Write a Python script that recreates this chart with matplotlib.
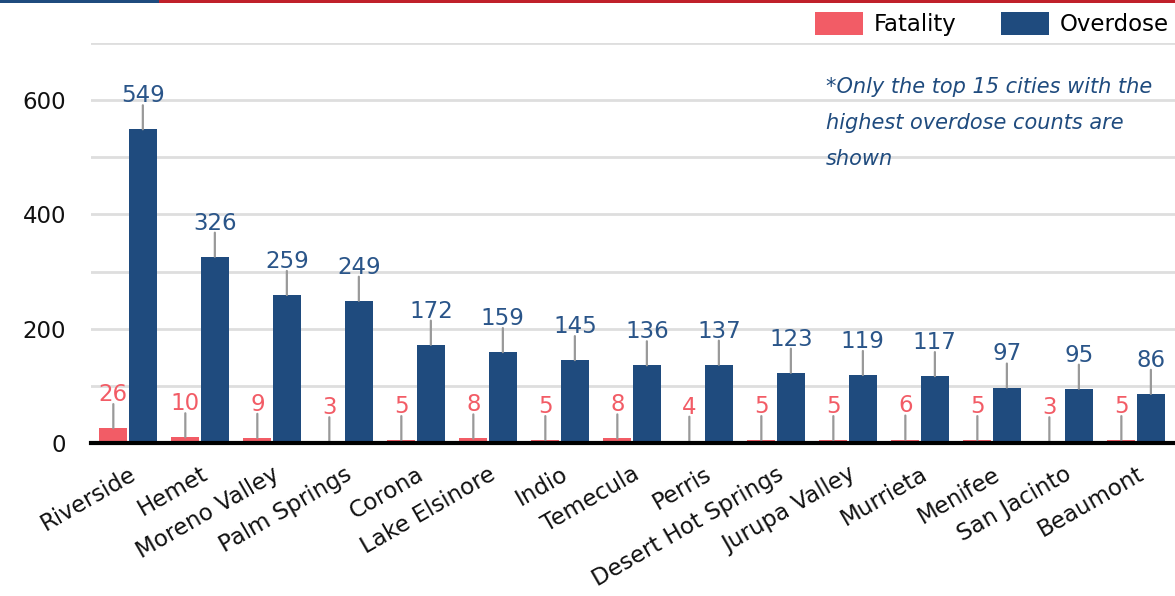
import matplotlib
matplotlib.use("Agg")
import matplotlib.pyplot as plt
from matplotlib.patches import Rectangle
import numpy as np

cities = ["Riverside", "Hemet", "Moreno Valley", "Palm Springs", "Corona",
          "Lake Elsinore", "Indio", "Temecula", "Perris", "Desert Hot Springs",
          "Jurupa Valley", "Murrieta", "Menifee", "San Jacinto", "Beaumont"]
fatality = [26, 10, 9, 3, 5, 8, 5, 8, 4, 5, 5, 6, 5, 3, 5]
overdose = [549, 326, 259, 249, 172, 159, 145, 136, 137, 123, 119, 117, 97, 95, 86]
y_ticks = [0, 200, 400, 600]
note_lines = ["*Only the top 15 cities with the", "highest overdose counts are", "shown"]

RED = "#f25c66"
BLUE = "#1f4b7e"
LABEL_BLUE = "#2a5589"
GRID = "#dedede"
LEADER = "#999999"
FONT = "DejaVu Sans"
FS = 16.5

plt.rcParams["font.family"] = [FONT]

W, H = 1175, 596
fig = plt.figure(figsize=(W / 100, H / 100), dpi=100)
ax = fig.add_axes([91 / W, 1 - 443 / H, 1 - 91 / W, 400 / H])

x = np.arange(len(cities))
w = 0.39
off = 0.205
ax.bar(x - off, fatality, w, color=RED, label="Fatality", zorder=3)
ax.bar(x + off, overdose, w, color=BLUE, label="Overdose", zorder=3)

def label_bars(xs, vals, color):
    for xi, v in zip(xs, vals):
        # short leader line above the bar, then the value on top of it
        ax.annotate("", xy=(xi, v), xytext=(0, 17.3), textcoords="offset points",
                    zorder=4, arrowprops=dict(arrowstyle="-", color=LEADER, lw=1.6,
                                              shrinkA=0, shrinkB=0))
        ax.annotate(str(v), xy=(xi, v), xytext=(0, 19.5), textcoords="offset points",
                    ha="center", va="baseline", fontsize=FS, color=color, zorder=4)

label_bars(x - off, fatality, RED)
label_bars(x + off, overdose, LABEL_BLUE)

ax.set_xlim(-0.515, 14.54)
ax.set_ylim(0, 700)
ax.set_yticks(y_ticks)
ax.set_yticks(np.arange(0, 701, 100), minor=True)
ax.grid(axis="y", which="both", color=GRID, lw=2, zorder=0)
ax.set_axisbelow(True)
ax.tick_params(axis="y", which="both", length=0, pad=18, labelsize=FS, labelcolor="#111111")
ax.tick_params(axis="x", length=0, pad=14)
ax.set_xticks(x)
ax.set_xticklabels(cities, rotation=30, ha="right", rotation_mode="anchor",
                   fontsize=FS, color="#111111")
for s in ["left", "right", "top"]:
    ax.spines[s].set_visible(False)
ax.spines["bottom"].set_color("black")
ax.spines["bottom"].set_linewidth(3)
ax.spines["bottom"].set_zorder(5)

for i, line in enumerate(note_lines):
    fig.text(826 / W, 1 - (93 + 36 * i) / H, line, ha="left", va="baseline",
             fontsize=15, style="italic", color=BLUE)

fig.legend(loc="upper left", bbox_to_anchor=(815 / W, 1 - 12 / H),
           ncol=2, frameon=False, fontsize=FS, borderpad=0, borderaxespad=0,
           handlelength=2.1, handleheight=1.2, handletextpad=0.45,
           columnspacing=1.95)

# coloured stripe along the top edge
fig.add_artist(Rectangle((0, 1 - 3 / H), 159 / W, 3 / H,
                         transform=fig.transFigure, color=BLUE, lw=0))
fig.add_artist(Rectangle((159 / W, 1 - 3 / H), 1 - 159 / W, 3 / H,
                         transform=fig.transFigure, color="#c0202a", lw=0))

fig.savefig("out.png", dpi=100)
